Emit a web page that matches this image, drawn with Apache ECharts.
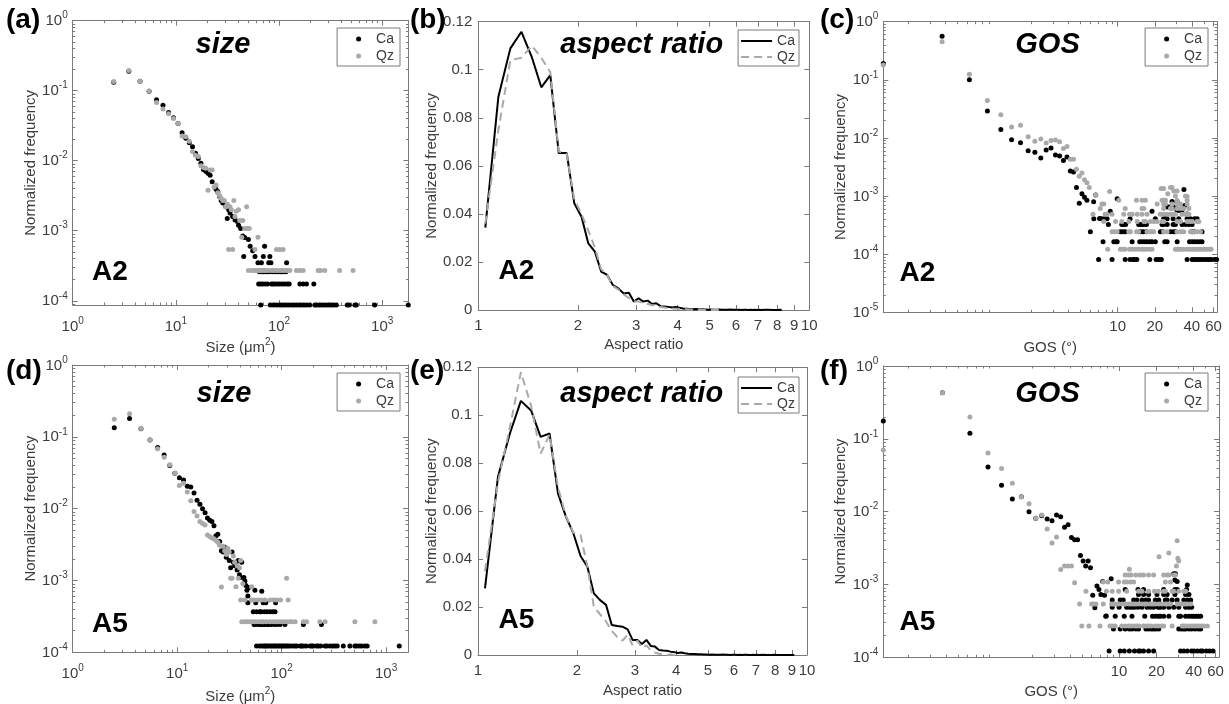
<!DOCTYPE html>
<html><head><meta charset="utf-8">
<script src="https://cdn.jsdelivr.net/npm/echarts@6/dist/echarts.min.js"></script>
<style>html,body{margin:0;padding:0;background:#fff;}#c{width:1229px;height:704px;}</style>
</head><body><div id="c"></div>
<script>
// ---------------- DATA ----------------
// size distributions (um^2, normalized frequency)
const sizeA2Ca = [[2.5,0.132],[3.5,0.19],[4.5,0.136],[5.5,0.098],[6.5,0.074],[7.5,0.062],[8.5,0.049],[9.5,0.041],[10.5,0.034],[11.5,0.025],[12.5,0.021],[13.5,0.018],[14.5,0.0158],[15.5,0.0128],[16.5,0.0108],[17.5,0.0092],[18.5,0.0075],[19.5,0.0071],[20.5,0.0066],[21.5,0.0062],[22.5,0.005],[24.5,0.0039],[25.5,0.0036],[26.5,0.0031],[27.5,0.0027],[28.5,0.0025],[30.5,0.0022],[31.5,0.0015],[32.5,0.002],[33.5,0.0018],[35.5,0.0016],[37.5,0.00142],[39.5,0.00135],[40.5,0.0012],[42.5,0.00108],[44.5,0.00084],[46.5,0.0008],[50.5,0.00075],[52.5,0.0006],[55.5,0.00052],[45.5,0.00043],[58.5,0.00043],[72.5,0.0006],[70.5,0.00043],[81.5,0.00043],[62.5,0.00035],[67.5,0.00035],[79.5,0.00035],[83.5,0.00035],[118.5,0.00035]];
const sizeA2CaRows = [
  [2.6e-4,[64.5,68.5,71.5,76.5,80.5,86.5,92.5,98.5,104.5,109.5,116.5]],
  [1.74e-4,[63.5,66.5,69.5,73.5,77.5,84.5,87.5,91.5,96.5,101.5,107.5,113.5,120.5,125.5,159.5,171.5,184.5,217.5]],
  [8.7e-5,[66.5,82.5,88.5,94.5,100.5,105.5,111.5,117.5,124.5,132.5,139.5,147.5,156.5,164.5,174.5,185.5,198.5,222.5,230.5,244.5,257.5,272.5,288.5,305.5,321.5,338.5,359.5,458.5,479.5,544.5,561.5,845.5,1790]]
];
const sizeA2Qz = [[2.5,0.135],[3.5,0.195],[4.5,0.137],[5.5,0.099],[6.5,0.068],[7.5,0.055],[8.5,0.047],[9.5,0.04],[10.5,0.034],[11.5,0.0225],[12.5,0.022],[13.5,0.019],[14.5,0.0135],[15.5,0.012],[16.5,0.0115],[17.5,0.0085],[18.5,0.008],[19.5,0.0078],[20.5,0.0038],[21.5,0.0074],[22.5,0.0074],[23.5,0.0042],[24.5,0.0045],[25.5,0.0035],[26.5,0.0032],[27.5,0.0029],[28.5,0.0027],[29.5,0.0027],[30.5,0.0022],[31.5,0.0024],[32.5,0.00054],[33.5,0.0022],[34.5,0.002],[35.5,0.00054],[36.5,0.0027],[37.5,0.0016],[38.5,0.0019],[40.5,0.002],[41.5,0.0014],[43.5,0.00081],[44.5,0.0014],[46.5,0.00108],[48.5,0.0022],[49.5,0.00108],[51.5,0.00108],[62.5,0.00081],[58.5,0.00054],[94.5,0.00054],[101.5,0.00054],[109.5,0.00054]];
const sizeA2QzRows = [
  [2.71e-4,[50.5,54.5,57.5,60.5,63.5,66.5,69.5,72.5,76.5,81.5,86.5,91.5,96.5,102.5,108.5,114.5,120.5,127.5,147.5,159.5,171.5,239.5,252.5,277.5,386.5,522.5]]
];
const sizeA5Ca = [[2.5,0.134],[3.5,0.18],[4.5,0.13],[5.5,0.09],[6.5,0.071],[7.5,0.056],[8.5,0.04],[9.5,0.031],[10.5,0.027],[11.5,0.025],[12.5,0.0205],[13.5,0.02],[14.5,0.0165],[15.5,0.0131],[16.5,0.0115],[17.5,0.01],[18.5,0.0088],[19.5,0.0074],[20.5,0.0069],[21.5,0.0066],[22.5,0.0058],[23.5,0.0042],[24.5,0.0044],[25.5,0.0035],[26.5,0.0026],[27.5,0.0025],[28.5,0.0029],[29.5,0.0021],[30.5,0.0025],[31.5,0.0019],[32.5,0.0015],[33.5,0.0025],[34.5,0.0018],[35.5,0.0016],[36.5,0.0018],[37.5,0.0014],[38.5,0.0019],[39.5,0.0012],[40.5,0.0011],[41.5,0.0018],[43.5,0.0011],[44.5,0.00098],[45.5,0.00085],[46.5,0.00073],[47.5,0.00061],[48.5,0.0008],[55.5,0.00073],[64.5,0.00071]];
const sizeA5CaRows = [
  [4.88e-4,[47.5,56.5,66.5,70.5,87.5]],
  [3.66e-4,[53.5,57.5,61.5,63.5,68.5,72.5,77.5,82.5,86.5]],
  [2.44e-4,[54.5,55.5,59.5,62.5,64.5,66.5,69.5,72.5,75.5,79.5,85.5,89.5,96.5,107.5,161.5,240.5]],
  [1.22e-4,[57.5,61.5,64.5,67.5,69.5,71.5,74.5,77.5,80.5,83.5,86.5,89.5,93.5,96.5,100.5,103.5,107.5,111.5,115.5,120.5,127.5,134.5,139.5,150.5,155.5,161.5,171.5,187.5,194.5,201.5,216.5,224.5,236.5,260.5,270.5,290.5,307.5,323.5,340.5,389.5,450.5,502.5,522.5,553.5,582.5,626.5,658.5,1336]]
];
const sizeA5Qz = [[2.5,0.175],[3.5,0.21],[4.5,0.131],[5.5,0.09],[6.5,0.068],[7.5,0.052],[8.5,0.041],[9.5,0.031],[10.5,0.021],[11.5,0.0225],[12.5,0.017],[13.5,0.0129],[14.5,0.0091],[15.5,0.0079],[16.5,0.0066],[17.5,0.0062],[18.5,0.0059],[19.5,0.0043],[20.5,0.0041],[21.5,0.0039],[22.5,0.0038],[23.5,0.0036],[24.5,0.0034],[25.5,0.0031],[26.5,0.00081],[27.5,0.003],[28.5,0.0026],[29.5,0.0023],[30.5,0.0028],[31.5,0.0025],[32.5,0.00107],[33.5,0.00107],[34.5,0.0022],[35.5,0.0018],[36.5,0.00082],[37.5,0.0016],[38.5,0.00107],[39.5,0.0015],[40.5,0.0019],[42.5,0.0009],[51.5,0.00082],[111.5,0.00107]];
const sizeA5QzRows = [
  [5.33e-4,[40.5,44.5,51.5,54.5,59.5,64.5,69.5,77.5,83.5,89.5,97.5,115.5]],
  [2.66e-4,[41.5,44.5,46.5,49.5,52.5,55.5,59.5,63.5,66.5,71.5,77.5,83.5,89.5,96.5,103.5,111.5,118.5,124.5,134.5,161.5,173.5,232.5,260.5,502.5,781.5]]
];

// aspect ratio bins and normalized frequencies
const arX = [1.05,1.15,1.25,1.35,1.45,1.55,1.65,1.75,1.85,1.95,2.05,2.15,2.25,2.35,2.45,2.55,2.65,2.75,2.85,2.95,3.05,3.15,3.25,3.35,3.45,3.55,3.65,3.75,3.85,3.95,4.05,4.15,4.25,4.35,4.45,4.55,4.65,4.75,4.85,4.95,5.05,5.15,5.25,5.35,5.45,5.55,5.65,5.75,5.85,5.95,6.05,6.15,6.25,6.35,6.45,6.55,6.65,6.75,6.85,6.95,7.05,7.15,7.25,7.35,7.45,7.55,7.65,7.75,7.85,7.95,8.05,8.15,8.25,8.35,8.45,8.55,8.65,8.75,8.85,8.95,9.05,9.15];
const arA2Ca = [0.0343,0.0888,0.1089,0.1158,0.1054,0.0927,0.0978,0.0653,0.0653,0.0444,0.0388,0.0277,0.0243,0.016,0.0146,0.0104,0.009,0.0069,0.0072,0.0035,0.0049,0.0035,0.0039,0.0025,0.0028,0.0016,0.0015,0.0013,0.001,0.0013,0.0009,0.0006,0.0005,0.0004,0.0003,0.0004,0.0002,0.0003,0.0002,0.0001,0.0002,0.0001,0.0001,0.0002,0.0001,0.0001,0.0001,0.0002,0.0001,0.0001,0.0001,0.0001,0,0.0001,0.0001,0,0.0001,0,0.0001,0,0.0001,0,0,0.0001,0,0.0001,0,0,0.0001,0,0,0.0001,0];
const arA2Qz = [0.036,0.075,0.104,0.105,0.11,0.105,0.099,0.066,0.065,0.046,0.04,0.033,0.026,0.017,0.0145,0.01,0.0085,0.0065,0.005,0.0035,0.0035,0.003,0.0025,0.002,0.002,0.0012,0.001,0.0008,0.0006,0.0005,0.0004,0.0003,0.0003,0.0002,0.0001,0.0001,0,0.0001,0,0,0,0.0001,0,0,0];
const arA5Ca = [0.0278,0.0743,0.0924,0.106,0.102,0.091,0.0924,0.0674,0.0577,0.0507,0.0413,0.0368,0.0257,0.0229,0.0209,0.0125,0.0121,0.0118,0.0107,0.0063,0.0063,0.0046,0.0063,0.0038,0.0035,0.0021,0.0019,0.0018,0.0014,0.0012,0.0008,0.001,0.0007,0.0005,0.0004,0.0004,0.0003,0.0003,0.0002,0.0002,0.0001,0.0002,0.0001,0.0001,0.0001,0.0002,0.0001,0.0001,0,0.0001,0.0001,0,0.0001,0,0.0001,0.0001,0,0,0.0001,0,0.0001,0,0,0.0001,0,0,0.0001,0,0,0.0001,0,0,0.0001,0,0,0,0.0001,0,0,0,0,0];
const arA5Qz = [0.035,0.072,0.095,0.118,0.104,0.084,0.092,0.07,0.058,0.051,0.05,0.037,0.02,0.017,0.014,0.01,0.0075,0.006,0.0085,0.004,0.006,0.003,0.004,0.002,0.001,0.0005,0.0003,0,0.0002,0,0.0001];

// GOS distributions (degrees, normalized frequency)
const gosA2Ca = [[0.125,0.19],[0.375,0.56],[0.625,0.1],[0.875,0.029],[1.125,0.014],[1.375,0.0093],[1.625,0.0083],[1.875,0.006],[2.125,0.0057],[2.375,0.0045],[2.625,0.0062],[2.875,0.0067],[3.125,0.0051],[3.375,0.0049],[3.625,0.0041],[3.875,0.0047],[4.125,0.0027],[4.375,0.0026],[4.625,0.0014],[4.875,0.00075],[5.125,0.0011],[5.375,0.00095],[5.625,0.00085],[6.375,0.0008],[6.625,0.00104],[7.125,0.00041],[8.7,0.00055],[19,0.00055],[25.2,0.00065],[26,0.00065],[27.6,0.00065],[29.4,0.00065],[30.3,0.00057],[31.3,0.00057],[32.3,0.00057],[33.3,0.00057],[35,0.00069],[36.6,0.00049],[9.9,0.0009],[34.5,0.0013],[27.6,0.00081],[30.3,0.00081]];
const gosA2CaRows = [
  [8.1e-5,[7.0,9.0,11.5,12.6,13.3,13.7,14.3,18.2,20.5,21.5,22.6,36.6,40.2,41.9,43.6,45.5,47.5,50,52.5,55,57.4,61,63.5]],
  [1.63e-4,[7.6,9.3,9.7,9.9,13.1,15.1,15.8,16.5,17.3,18.2,19.0,20.2,24.1,25.2,30.4,38.3,40.2,42,44.1,46.4,48.4]],
  [2.43e-4,[6.0,10.5,11.0,11.5,15.3,16.1,17.1,22.2,23.3,26.8,28.2,29.4,40.2,41.9,48.4]],
  [3.25e-4,[8.4,10.8,11.2,11.6,14.8,15.3,15.8,16.3,17.1,22.9,23.6,25.2,28.2,29.4,33.3,35.5,37.8,40.2]],
  [4.06e-4,[6.4,7.4,7.8,8.2,12.6,20.2,23.6,24.4,25.2,28.2,31.3,36.6,38.9,42,44.1]]
];
const gosA2Qz = [[0.125,0.18],[0.375,0.45],[0.625,0.125],[0.875,0.044],[1.125,0.025],[1.375,0.0155],[1.625,0.0165],[1.875,0.0105],[2.125,0.0088],[2.375,0.0096],[2.625,0.0082],[2.875,0.009],[3.125,0.0092],[3.375,0.0086],[3.625,0.0066],[3.875,0.0071],[4.125,0.0043],[4.375,0.0043],[4.625,0.0029],[4.875,0.0022],[5.125,0.0025],[5.375,0.0019],[5.625,0.0017],[5.875,0.0014],[6.625,0.00104],[8.6,0.0012],[26.8,0.0014],[27.6,0.0014],[28.5,0.00122],[30.3,0.00122],[29.4,0.001],[35.5,0.001],[36.6,0.00098],[22.5,0.00135],[23.6,0.00135],[25.5,0.0011]];
const gosA2QzRows = [
  [1.22e-4,[8.3,10.5,11.0,11.5,12.5,13.1,13.9,14.8,15.75,16.3,17.1,18.2,19.0,29.4,30.3,31.3,32.7,34.4,36.6,38.5,40.2,41.5,43.6,45.5,47.5,50,52.5,54.9,57.3]],
  [2.44e-4,[9.0,9.4,9.9,12.3,12.7,14.2,14.8,17.3,18.4,19.0,19.6,23.6,25.2,30.3,32.3,33.3,34.4,38.9,41.5,44.1,47.0]],
  [3.66e-4,[7.7,9.6,10.8,12.3,14.4,16.3,16.8,18.4,19.6,20.9,22.9,23.6,30.3,32.3,36.6,38.5,40.2,44.1,45.5]],
  [4.88e-4,[6.3,7.9,8.2,9.0,11.2,12.5,13.1,14.4,15.75,17.3,22.2,23.6,25.2,26.8,27.6,28.5,29.4,33.3,35.5,36.6,37.8]],
  [6.1e-4,[7.2,11.5,15.75,16.3,23.6,26.8,27.6,30.3,32.3,34.4,37.8]],
  [7.3e-4,[7.45,7.7,20.9,23.6,24.4,27.6,30.3,32.3,36.6]],
  [8.5e-4,[10.2,14.2,15.75,16.8,22.9,23.6,24.4,30.3,36.6]]
];
const gosA5Ca = [[0.125,0.176],[0.375,0.43],[0.625,0.119],[0.875,0.041],[1.125,0.023],[1.375,0.0149],[1.625,0.016],[1.875,0.01],[2.125,0.0081],[2.375,0.0088],[2.625,0.0079],[2.875,0.0075],[3.125,0.009],[3.375,0.0085],[3.625,0.0061],[3.875,0.0066],[4.125,0.0044],[4.375,0.0041],[4.625,0.0041],[4.875,0.0025],[5.125,0.0021],[5.375,0.0018],[5.625,0.0021],[5.875,0.0017],[6.125,0.00071],[6.375,0.00048],[6.625,0.00095],[6.875,0.00085],[7.125,0.00073],[7.375,0.0011],[7.625,0.00071],[7.875,0.00037],[8.625,0.0012],[27.6,0.0014],[28.2,0.00115],[29.4,0.0011],[28.5,0.0014],[35.5,0.00098]];
const gosA5CaRows = [
  [1.22e-4,[8.3,10.2,11.0,12.1,13.3,14.35,14.8,15.75,17.3,19.0,31.3,33.3,35.5,38.5,40.2,42.8,45.5,47.0,50.6,53.8,57.3]],
  [2.44e-4,[9.0,10.2,11.2,12.1,12.7,13.65,14.35,16.45,17.3,18.2,19.0,19.8,20.9,30.3,31.9,33.3,34.4,36.6,38.5,41.0,43.6,45.5]],
  [3.66e-4,[7.8,9.3,11.0,12.7,16.1,18.6,19.6,20.7,21.5,22.9,25.2,30.3,31.3,34.4,36.6,38.5,40.2,42.0,43.6,45.5]],
  [4.88e-4,[8.8,10.0,11.5,12.1,12.7,13.3,14.2,15.3,16.8,17.85,19.0,20.7,21.5,22.9,25.2,27.6,30.3,34.4,36.6,38.5]],
  [6.1e-4,[8.8,10.2,10.8,13.1,13.9,15.3,16.45,17.3,19.6,20.9,23.6,24.4,26.8,29.4,33.3,35.5,37.8]],
  [7.3e-4,[14.35,15.75,17.3,20.2,22.9,24.4,28.2,34.4,36.6]],
  [8.5e-4,[11.2,14.2,15.75,22.9,28.2,29.4,35.0]]
];
const gosA5Qz = [[0.125,0.07],[0.375,0.43],[0.625,0.2],[0.875,0.064],[1.125,0.039],[1.375,0.0245],[1.625,0.016],[1.875,0.0128],[2.125,0.0081],[2.375,0.009],[2.625,0.0058],[2.875,0.0037],[3.125,0.0045],[3.375,0.0016],[3.625,0.0018],[3.875,0.0018],[4.125,0.0018],[4.375,0.00106],[21.0,0.0024],[25.2,0.0027],[29.4,0.004],[29.8,0.0023],[30.3,0.0021],[29.0,0.0018],[12.1,0.00162]];
const gosA5QzRows = [
  [2.7e-4,[5.0,5.7,7.0,8.44,8.8,9.3,10.5,11.2,11.9,12.5,13.3,13.9,14.5,15.75,16.45,17.3,18.2,19.6,20.7,22.0,22.9,26.8,32.3,33.3,34.7,36.6,38.5,40.2,42.0,44.1,46.4,48.4,51.6]],
  [5.4e-4,[4.8,6.0,6.2,6.5,7.45,8.7,9.0,9.3,9.9,10.6,11.2,11.9,12.5,13.1,13.65,14.35,15.3,16.1,16.8,17.85,18.6,19.6,20.9,22.2,23.6,24.8,26.0,29.4,31.3,32.3,33.8,35.5,37.8]],
  [8.1e-4,[5.4,7.9,8.8,9.9,11.5,14.35,15.3,17.3,19.3,20.7,22.9,23.6,26.8,27.6,30.3,33.3,34.4]],
  [1.08e-3,[7.45,8.1,9.9,11.0,11.5,12.3,13.1,23.6,26.0]],
  [1.35e-3,[11.2,11.9,12.5,13.65,14.8,15.75,17.3,19.0,22.9,24.4,25.2,27.6,28.5]]
];

// tick values
const logYTicksA = [1e-4,1e-3,1e-2,1e-1,1];
const logYTicksC = [1e-5,1e-4,1e-3,1e-2,1e-1,1];
const logXTicksSize = [1,10,100,1000];
const arTicks = [1,2,3,4,5,6,7,8,9,10];
const gosTicks = [10,20,40,60];
const linTicks = [0,0.02,0.04,0.06,0.08,0.1,0.12];

// ---------------- STYLE / BUILD ----------------
const FONT = '"Liberation Sans", Arial, Helvetica, sans-serif';
const AXC = '#7a7a7a', TXC = '#3c3c3c';
const CA = '#000000', QZ = '#a9a9a9';
const RICH = {
  b: {fontSize: 15, fontFamily: FONT, color: TXC, verticalAlign: 'bottom', lineHeight: 16},
  s: {fontSize: 10, fontFamily: FONT, color: TXC, verticalAlign: 'bottom', lineHeight: 11, padding: [0, 0, 8, 0]}
};
const NRICH = {
  n: {fontSize: 15, fontFamily: FONT, color: TXC, verticalAlign: 'bottom', lineHeight: 16},
  s: {fontSize: 10, fontFamily: FONT, color: TXC, verticalAlign: 'bottom', lineHeight: 11, padding: [0, 0, 8, 0]}
};
const supFmt = v => '{b|10}{s|' + Math.round(Math.log10(v)) + '}';

function minorLog(lo, hi) {
  const out = [];
  for (let e = -6; e <= 4; e++) for (let k = 2; k <= 9; k++) {
    const v = +(k * Math.pow(10, e)).toPrecision(3);
    if (v > lo * 1.0001 && v < hi * 0.9999) out.push(v);
  }
  return out;
}
function flatRows(rows) { const o = []; rows.forEach(r => r[1].forEach(x => o.push([x, r[0]]))); return o; }

const grids = [], xAxes = [], yAxes = [], series = [], legends = [];

function axisBase(type, min, max, g) {
  const o = {gridIndex: g, type, min, max, splitLine: {show: false}, minorTick: {show: false}, minorSplitLine: {show: false}, axisPointer: {show: false}};
  if (type === 'log') o.logBase = 10;
  return o;
}
function mkAxes(list, dim, g, a) {
  const pos = dim === 'x' ? ['bottom', 'top'] : ['left', 'right'];
  const mainIdx = list.length;
  pos.forEach((p, pi) => {
    const main = Object.assign(axisBase(a.type, a.min, a.max, g), {
      position: p,
      axisLine: {show: true, onZero: false, lineStyle: {color: AXC, width: 1}},
      axisTick: {show: true, inside: true, length: 5, customValues: a.major, lineStyle: {color: AXC, width: 1}},
      axisLabel: {show: false}
    });
    if (pi === 0) {
      const lab = {show: true, customValues: a.labels, margin: a.margin, color: TXC, fontSize: 15, fontFamily: FONT};
      if (a.fmt) { lab.formatter = a.fmt; lab.rich = RICH; }
      main.axisLabel = lab;
      if (a.name) {
        main.name = a.name; main.nameLocation = 'middle'; main.nameGap = a.nameGap;
        main.nameTextStyle = {color: TXC, fontSize: 15, fontFamily: FONT, rich: NRICH};
        if (dim === 'y') main.nameRotate = 90;
      }
    }
    list.push(main);
    if (a.minor && a.minor.length) {
      list.push(Object.assign(axisBase(a.type, a.min, a.max, g), {
        position: p,
        axisLine: {show: false},
        axisTick: {show: true, inside: true, length: 2.5, customValues: a.minor, lineStyle: {color: AXC, width: 1}},
        axisLabel: {show: false}
      }));
    }
  });
  return mainIdx;
}

function panel(p) {
  const g = grids.length;
  grids.push(Object.assign({containLabel: false, outerBoundsMode: 'none'}, p.grid));
  const xi = mkAxes(xAxes, 'x', g, p.x);
  const yi = mkAxes(yAxes, 'y', g, p.y);
  p.series.forEach(s => series.push(Object.assign({xAxisIndex: xi, yAxisIndex: yi, animation: false}, s)));
  legends.push(Object.assign({
    data: p.series.map(s => s.name), orient: 'vertical', selectedMode: false,
    borderColor: AXC, borderWidth: 1, backgroundColor: '#fff', borderRadius: 0,
    formatter: n => n.split('_')[0],
    textStyle: {fontSize: 14, color: TXC, fontFamily: FONT}
  }, p.legend));
}

function scatterPair(tag, ca, qz) {
  return [
    {type: 'scatter', name: 'Ca_' + tag, data: ca, symbol: 'circle', symbolSize: 5, itemStyle: {color: CA, opacity: 1}, z: 3},
    {type: 'scatter', name: 'Qz_' + tag, data: qz, symbol: 'circle', symbolSize: 5, itemStyle: {color: QZ, opacity: 1}, z: 4}
  ];
}
function linePair(tag, ca, qz) {
  return [
    {type: 'line', name: 'Ca_' + tag, data: ca.map((v, i) => [arX[i], v]), symbol: 'none', showSymbol: false, lineStyle: {color: CA, width: 2}, itemStyle: {color: CA}, z: 3},
    {type: 'line', name: 'Qz_' + tag, data: qz.map((v, i) => [arX[i], v]), symbol: 'none', showSymbol: false, lineStyle: {color: QZ, width: 2, type: [8, 5]}, itemStyle: {color: QZ}, z: 4}
  ];
}
const scatLegend = {itemWidth: 25, itemHeight: 5, itemGap: 3, padding: [4, 6, 3, 19], icon: 'circle'};
const lineLegend = {itemWidth: 31, itemHeight: 14, itemGap: 2, padding: [4, 4, 2, 2], itemStyle: {opacity: 0, borderWidth: 0}};
const SIZE_NAME = '{n|Size (μm}{s|2}{n|)}';

// (a)
panel({grid: {left: 72.7, top: 20.7, width: 335.8, height: 284.3},
  x: {type: 'log', min: 1, max: 1800, major: logXTicksSize, minor: minorLog(1, 1800), labels: logXTicksSize, fmt: supFmt, name: SIZE_NAME, nameGap: 34, margin: 13},
  y: {type: 'log', min: 8.7e-5, max: 1, major: logYTicksA, minor: minorLog(8.7e-5, 1), labels: logYTicksA, fmt: supFmt, name: 'Normalized frequency', nameGap: 34, margin: 5},
  series: scatterPair('a', sizeA2Ca.concat(flatRows(sizeA2CaRows)), sizeA2Qz.concat(flatRows(sizeA2QzRows))),
  legend: Object.assign({right: 829, top: 28}, scatLegend)});
// (b)
panel({grid: {left: 478.3, top: 21.7, width: 331, height: 288.3},
  x: {type: 'log', min: 1, max: 10, major: arTicks, minor: [], labels: arTicks, name: 'Aspect ratio', nameGap: 27, margin: 8},
  y: {type: 'value', min: 0, max: 0.12, major: linTicks, minor: [], labels: linTicks, name: 'Normalized frequency', nameGap: 34, margin: 6},
  series: linePair('b', arA2Ca, arA2Qz),
  legend: Object.assign({right: 430, top: 30}, lineLegend)});
// (c)
panel({grid: {left: 883.3, top: 21.7, width: 333.7, height: 290.6},
  x: {type: 'log', min: 0.125, max: 64, major: gosTicks, minor: minorLog(0.125, 64), labels: gosTicks, name: 'GOS (°)', nameGap: 28, margin: 7},
  y: {type: 'log', min: 1e-5, max: 1, major: logYTicksC, minor: minorLog(1e-5, 1), labels: logYTicksC, fmt: supFmt, name: 'Normalized frequency', nameGap: 34, margin: 5},
  series: scatterPair('c', gosA2Ca.concat(flatRows(gosA2CaRows)), gosA2Qz.concat(flatRows(gosA2QzRows))),
  legend: Object.assign({right: 21, top: 28}, scatLegend)});
// (d)
panel({grid: {left: 72.7, top: 365, width: 335.3, height: 287.3},
  x: {type: 'log', min: 1, max: 1620, major: logXTicksSize, minor: minorLog(1, 1620), labels: logXTicksSize, fmt: supFmt, name: SIZE_NAME, nameGap: 36, margin: 13},
  y: {type: 'log', min: 1e-4, max: 1, major: logYTicksA, minor: minorLog(1e-4, 1), labels: logYTicksA, fmt: supFmt, name: 'Normalized frequency', nameGap: 34, margin: 5},
  series: scatterPair('d', sizeA5Ca.concat(flatRows(sizeA5CaRows)), sizeA5Qz.concat(flatRows(sizeA5QzRows))),
  legend: Object.assign({right: 829, top: 373}, scatLegend)});
// (e)
panel({grid: {left: 478, top: 367.3, width: 329, height: 287.7},
  x: {type: 'log', min: 1, max: 10, major: arTicks, minor: [], labels: arTicks, name: 'Aspect ratio', nameGap: 28, margin: 8},
  y: {type: 'value', min: 0, max: 0.12, major: linTicks, minor: [], labels: linTicks, name: 'Normalized frequency', nameGap: 34, margin: 6},
  series: linePair('e', arA5Ca, arA5Qz),
  legend: Object.assign({right: 430, top: 377}, lineLegend)});
// (f)
panel({grid: {left: 883.3, top: 366, width: 335.7, height: 291.3},
  x: {type: 'log', min: 0.125, max: 64, major: gosTicks, minor: minorLog(0.125, 64), labels: gosTicks, name: 'GOS (°)', nameGap: 27, margin: 7},
  y: {type: 'log', min: 1e-4, max: 1, major: logYTicksA, minor: minorLog(1e-4, 1), labels: logYTicksA, fmt: supFmt, name: 'Normalized frequency', nameGap: 34, margin: 5},
  series: scatterPair('f', gosA5Ca.concat(flatRows(gosA5CaRows)), gosA5Qz.concat(flatRows(gosA5QzRows))),
  legend: Object.assign({right: 21, top: 373}, scatLegend)});

function txt(x, y, text, font, align) {
  return {type: 'text', x, y, z: 100, silent: true,
    style: {text, font, fill: '#000', textAlign: align, textVerticalAlign: 'middle', align, verticalAlign: 'middle'}};
}
const PF = 'bold 28px ' + FONT, TF = 'italic bold 29px ' + FONT, SF = 'bold 28px ' + FONT;
const graphics = [
  txt(6, 20, '(a)', PF, 'left'), txt(410, 20, '(b)', PF, 'left'), txt(820, 20, '(c)', PF, 'left'),
  txt(6, 371.5, '(d)', PF, 'left'), txt(410, 371.5, '(e)', PF, 'left'), txt(820, 371.5, '(f)', PF, 'left'),
  txt(223, 45, 'size', TF, 'center'), txt(641.7, 45, 'aspect ratio', TF, 'center'), txt(1047.5, 45, 'GOS', TF, 'center'),
  txt(224, 394, 'size', TF, 'center'), txt(641.7, 394, 'aspect ratio', TF, 'center'), txt(1047.5, 394, 'GOS', TF, 'center'),
  txt(110, 272, 'A2', SF, 'center'), txt(516.5, 271, 'A2', SF, 'center'), txt(917.5, 273, 'A2', SF, 'center'),
  txt(110, 624, 'A5', SF, 'center'), txt(516.5, 620, 'A5', SF, 'center'), txt(917.5, 622, 'A5', SF, 'center')
];

const chart = echarts.init(document.getElementById('c'), null, {renderer: 'canvas', width: 1229, height: 704});
chart.setOption({
  animation: false,
  backgroundColor: '#ffffff',
  textStyle: {fontFamily: FONT},
  grid: grids, xAxis: xAxes, yAxis: yAxes, series, legend: legends, graphic: graphics
});
</script></body></html>
